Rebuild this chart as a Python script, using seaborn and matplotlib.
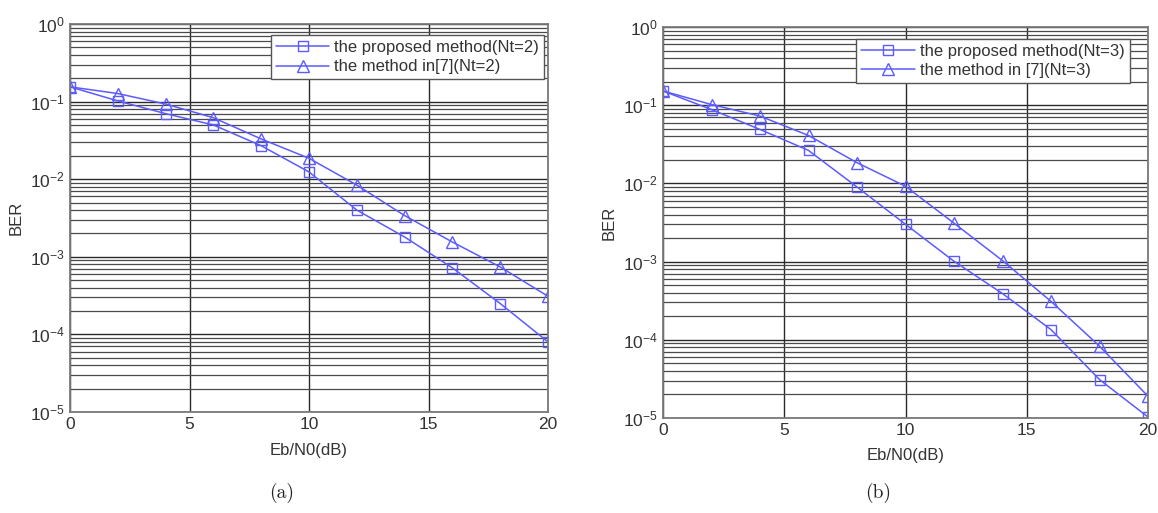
import numpy as np
import pandas as pd
import matplotlib
matplotlib.use("Agg")
import matplotlib.pyplot as plt
import matplotlib.ticker as mticker
import seaborn as sns

sns.set_theme(style="white", context="paper")
plt.rcParams["font.family"] = ["Liberation Sans", "DejaVu Sans"]
plt.rcParams["mathtext.fontset"] = "custom"
plt.rcParams["mathtext.rm"] = "Liberation Sans"

# Eb/N0 (dB)
snr = [0, 2, 4, 6, 8, 10, 12, 14, 16, 18, 20]

# (a) Nt = 2
ber_prop_nt2 = [0.155, 0.102, 0.070, 0.050, 0.027, 0.0124, 0.0040, 0.0018, 7.2e-4, 2.5e-4, 8.0e-5]
ber_ref_nt2 = [0.155, 0.127, 0.093, 0.062, 0.033, 0.0186, 0.0084, 0.0034, 1.55e-3, 7.4e-4, 3.1e-4]

# (b) Nt = 3
ber_prop_nt3 = [0.152, 0.088, 0.049, 0.0264, 0.0090, 0.0030, 1.01e-3, 3.9e-4, 1.35e-4, 3.1e-5, 1.03e-5]
ber_ref_nt3 = [0.152, 0.102, 0.0726, 0.041, 0.0184, 0.0092, 0.0031, 1.03e-3, 3.1e-4, 8.3e-5, 1.9e-5]

labels_a = ["the proposed method(Nt=2)", "the method in[7](Nt=2)"]
labels_b = ["the proposed method(Nt=3)", "the method in [7](Nt=3)"]

color = "#5b5bff"
text_color = "#333333"

fig = plt.figure(figsize=(11.58, 5.13), dpi=100)
ax_a = fig.add_axes([70 / 1158, 1 - 412 / 513, 478 / 1158, 388 / 513])
ax_b = fig.add_axes([663 / 1158, 1 - 418 / 513, 485 / 1158, 391 / 513])


def decade_label(v, pos):
    e = int(round(np.log10(v)))
    return r"$\mathdefault{10^{%d}}$" % e


def draw(ax, prop, ref, labels, leg_anchor, xpad):
    df = pd.DataFrame({"snr": snr, "prop": prop, "ref": ref})
    sns.lineplot(data=df, x="snr", y="prop", ax=ax, color=color, lw=1.1,
                 marker="s", markersize=7, markerfacecolor="none",
                 markeredgecolor=color, markeredgewidth=1.0,
                 label=labels[0], legend=False)
    sns.lineplot(data=df, x="snr", y="ref", ax=ax, color=color, lw=1.1,
                 marker="^", markersize=8, markerfacecolor="none",
                 markeredgecolor=color, markeredgewidth=1.0,
                 label=labels[1], legend=False)
    ax.set_yscale("log")
    ax.set_ylim(1e-5, 1)
    ax.set_xlim(0, 20)
    ax.set_xticks([0, 5, 10, 15, 20])
    ax.yaxis.set_major_locator(mticker.LogLocator(base=10, numticks=10))
    ax.yaxis.set_major_formatter(mticker.FuncFormatter(decade_label))
    ax.yaxis.set_minor_locator(mticker.LogLocator(base=10, subs=np.arange(2, 10), numticks=20))
    ax.yaxis.set_minor_formatter(mticker.NullFormatter())
    ax.grid(True, which="major", axis="both", color="#2a2a2a", lw=1.0)
    ax.grid(True, which="minor", axis="y", color="#4a4a4a", lw=0.9)
    ax.tick_params(axis="both", which="both", direction="in", length=3,
                   color="#666666", labelsize=12.5, labelcolor=text_color)
    for s in ax.spines.values():
        s.set_color("#7a7a7a")
        s.set_linewidth(1.3)
    ax.set_xlabel("Eb/N0(dB)", fontsize=12, color=text_color, labelpad=xpad)
    ax.set_ylabel("BER", fontsize=12, color=text_color, labelpad=5)
    leg = ax.legend(loc="upper right", bbox_to_anchor=leg_anchor, fontsize=12,
                    frameon=True, fancybox=False, framealpha=1, edgecolor="#555555",
                    handlelength=3.2, handletextpad=0.3, labelspacing=0.25,
                    borderpad=0.3, borderaxespad=0)
    leg.get_frame().set_linewidth(1.0)
    for t in leg.get_texts():
        t.set_color(text_color)


draw(ax_a, ber_prop_nt2, ber_ref_nt2, labels_a, (0.992, 0.971), 8)
draw(ax_b, ber_prop_nt3, ber_ref_nt3, labels_b, (0.962, 0.970), 7)

fig.text(282 / 1158, 1 - 493 / 513, "(a)", family="cmr10", fontsize=14,
         ha="center", va="center", color="#222222")
fig.text(878 / 1158, 1 - 493 / 513, "(b)", family="cmr10", fontsize=14,
         ha="center", va="center", color="#222222")

fig.savefig("out.png", dpi=100)
